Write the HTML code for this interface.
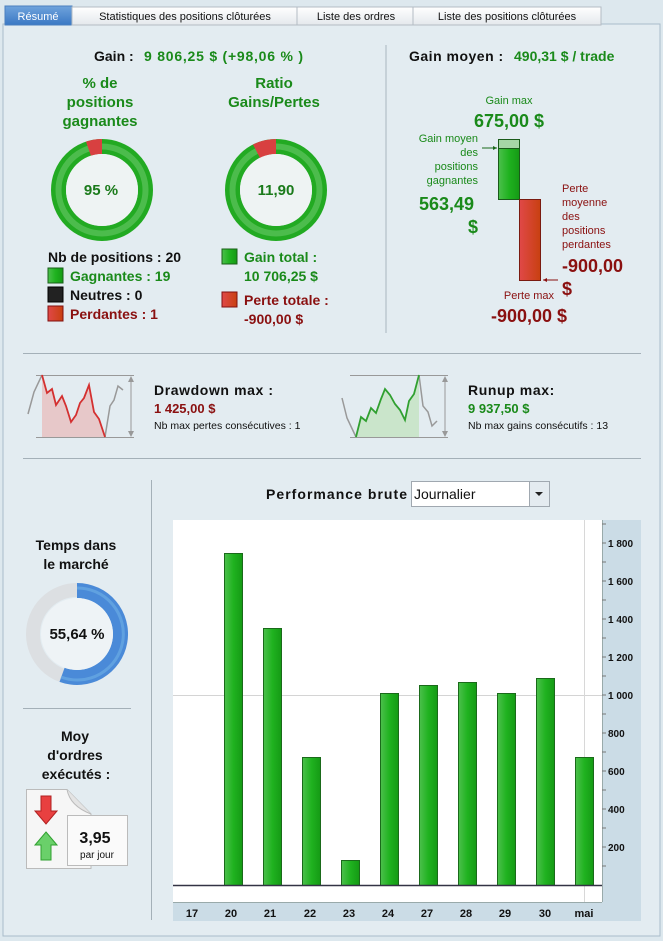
<!DOCTYPE html>
<html><head><meta charset="utf-8"><style>
html,body{margin:0;padding:0;background:#dfe9ef;}
svg{display:block;font-family:"Liberation Sans",sans-serif;}
</style></head><body>
<svg width="663" height="941" viewBox="0 0 663 941" xmlns="http://www.w3.org/2000/svg">
<defs>
<linearGradient id="gb" x1="0" x2="1"><stop offset="0" stop-color="#4cc04c"/><stop offset="0.5" stop-color="#1fb21f"/><stop offset="1" stop-color="#159a15"/></linearGradient>
<linearGradient id="rb" x1="0" x2="1"><stop offset="0" stop-color="#e04848"/><stop offset="1" stop-color="#c84010"/></linearGradient>
<linearGradient id="tab" x1="0" y1="0" x2="0" y2="1"><stop offset="0" stop-color="#ffffff"/><stop offset="1" stop-color="#e4e8ec"/></linearGradient>
<linearGradient id="tabb" x1="0" y1="0" x2="0" y2="1"><stop offset="0" stop-color="#6fa3dc"/><stop offset="1" stop-color="#3a78c4"/></linearGradient>
</defs>
<rect x="0" y="0" width="663" height="941" fill="#dde8ee"/>
<rect x="3" y="24" width="657" height="912" fill="#e3ecf1" stroke="#a9bccb"/>
<!-- tabs -->
<rect x="5" y="6" width="67" height="19" fill="url(#tabb)" stroke="#4a7fbf"/>
<text x="38" y="20" font-size="11" fill="#fff" text-anchor="middle">Résumé</text>
<rect x="72" y="7" width="225" height="18" fill="url(#tab)" stroke="#b4bcc4"/>
<text x="185" y="20" font-size="11" fill="#111" text-anchor="middle">Statistiques des positions clôturées</text>
<rect x="297" y="7" width="116" height="18" fill="url(#tab)" stroke="#b4bcc4"/>
<text x="356" y="20" font-size="11" fill="#111" text-anchor="middle">Liste des ordres</text>
<rect x="413" y="7" width="188" height="18" fill="url(#tab)" stroke="#b4bcc4"/>
<text x="507" y="20" font-size="11" fill="#111" text-anchor="middle">Liste des positions clôturées</text>

<!-- top left -->
<text x="94" y="61" font-size="14" font-weight="bold" fill="#111">Gain : </text>
<text x="144" y="61" font-size="14" font-weight="bold" fill="#1a8a1a" textLength="159" lengthAdjust="spacing">9 806,25 $ (+98,06 % )</text>
<g font-size="15" font-weight="bold" fill="#1a8a1a" text-anchor="middle">
<text x="100" y="88">% de</text><text x="100" y="107">positions</text><text x="100" y="126">gagnantes</text>
<text x="274" y="88">Ratio</text><text x="274" y="107">Gains/Pertes</text>
</g>
<g>
<circle cx="102" cy="190" r="43.5" fill="none" stroke="#22aa22" stroke-width="15"/>
<circle cx="102" cy="190" r="43.5" fill="none" stroke="#4cbc4c" stroke-width="6"/>
<path d="M102 139 A51 51 0 0 0 86 141.6 L90.9 155.8 A36 36 0 0 1 102 154 Z" fill="#d84040"/>
<circle cx="102" cy="190" r="36" fill="#eef3f3"/>
<text x="101" y="195" font-size="15" font-weight="bold" fill="#1a7a1a" text-anchor="middle">95 %</text>
<circle cx="276" cy="190" r="43.5" fill="none" stroke="#22aa22" stroke-width="15"/>
<circle cx="276" cy="190" r="43.5" fill="none" stroke="#4cbc4c" stroke-width="6"/>
<path d="M276 139 A51 51 0 0 0 253 144.5 L260 158 A36 36 0 0 1 276 154 Z" fill="#d84040"/>
<circle cx="276" cy="190" r="36" fill="#eef3f3"/>
<text x="276" y="195" font-size="15" font-weight="bold" fill="#1a7a1a" text-anchor="middle">11,90</text>
</g>
<text x="48" y="262" font-size="14" font-weight="bold" fill="#111">Nb de positions : 20</text>
<rect x="48" y="268" width="15" height="15" fill="url(#gb)" stroke="#186018"/>
<text x="70" y="281" font-size="14" font-weight="bold" fill="#1a8a1a">Gagnantes : 19</text>
<rect x="48" y="287" width="15" height="15" fill="#222" stroke="#000"/>
<text x="70" y="300" font-size="14" font-weight="bold" fill="#111">Neutres : 0</text>
<rect x="48" y="306" width="15" height="15" fill="url(#rb)" stroke="#801010"/>
<text x="70" y="319" font-size="14" font-weight="bold" fill="#8a1010">Perdantes : 1</text>
<rect x="222" y="249" width="15" height="15" fill="url(#gb)" stroke="#186018"/>
<text x="244" y="262" font-size="14" font-weight="bold" fill="#1a8a1a">Gain total :</text>
<text x="244" y="281" font-size="14" font-weight="bold" fill="#1a8a1a">10 706,25 $</text>
<rect x="222" y="292" width="15" height="15" fill="url(#rb)" stroke="#801010"/>
<text x="244" y="305" font-size="14" font-weight="bold" fill="#8a1010">Perte totale :</text>
<text x="244" y="324" font-size="14" font-weight="bold" fill="#8a1010">-900,00 $</text>
<line x1="386" y1="45" x2="386" y2="333" stroke="#a9b6bf"/>

<!-- top right -->
<text x="409" y="61" font-size="14" font-weight="bold" fill="#111" letter-spacing="0.5">Gain moyen : </text>
<text x="514" y="61" font-size="14" font-weight="bold" fill="#1a8a1a">490,31 $ / trade</text>
<text x="509" y="104" font-size="11" fill="#1a8a1a" text-anchor="middle">Gain max</text>
<text x="509" y="127" font-size="18" font-weight="bold" fill="#1a8a1a" text-anchor="middle">675,00 $</text>
<g font-size="11" fill="#1a8a1a" text-anchor="end">
<text x="478" y="142">Gain moyen</text><text x="478" y="156">des</text><text x="478" y="170">positions</text><text x="478" y="184">gagnantes</text>
</g>
<text x="474" y="210" font-size="18" font-weight="bold" fill="#1a8a1a" text-anchor="end">563,49</text>
<text x="478" y="233" font-size="18" font-weight="bold" fill="#1a8a1a" text-anchor="end">$</text>
<line x1="482" y1="148" x2="497" y2="148" stroke="#1a6a1a"/><path d="M497 148 l-4 -2 v4z" fill="#1a6a1a"/>
<rect x="498.5" y="139.5" width="21" height="60" fill="url(#gb)" stroke="#1a5a1a"/>
<rect x="498.5" y="139.5" width="21" height="9" fill="#a6d6a6" stroke="#1a5a1a"/>
<rect x="519.5" y="199.5" width="21" height="81" fill="url(#rb)" stroke="#7a1a10"/>
<g font-size="11" fill="#8a1010">
<text x="562" y="192">Perte</text><text x="562" y="206">moyenne</text><text x="562" y="220">des</text><text x="562" y="234">positions</text><text x="562" y="248">perdantes</text>
</g>
<text x="562" y="272" font-size="18" font-weight="bold" fill="#8a1010">-900,00</text>
<text x="562" y="295" font-size="18" font-weight="bold" fill="#8a1010">$</text>
<line x1="543" y1="280" x2="558" y2="280" stroke="#8a1010"/><path d="M543 280 l4 -2 v4z" fill="#8a1010"/>
<text x="529" y="299" font-size="11" fill="#8a1010" text-anchor="middle">Perte max</text>
<text x="529" y="322" font-size="18" font-weight="bold" fill="#8a1010" text-anchor="middle">-900,00 $</text>

<!-- middle -->
<line x1="23" y1="353.5" x2="641" y2="353.5" stroke="#a4b0b8"/>
<line x1="23" y1="458.5" x2="641" y2="458.5" stroke="#a4b0b8"/>
<g>
<line x1="36" y1="375.5" x2="134" y2="375.5" stroke="#999"/>
<line x1="36" y1="437.5" x2="134" y2="437.5" stroke="#999"/>
<line x1="131" y1="378" x2="131" y2="435" stroke="#999"/>
<path d="M131 376 l-3 6 h6z M131 437 l-3 -6 h6z" fill="#999"/>
<polyline points="28,414 34,392 42,375" fill="none" stroke="#999" stroke-width="1.5"/>
<polyline points="105,437 110,406 114,400 118,386 123,390" fill="none" stroke="#999" stroke-width="1.5"/>
<polygon points="42,375 47,393 52,389 56,405 62,396 66,406 71,422 76,415 80,403 84,398 89,385 94,412 99,419 105,437 42,437" fill="#e7c4c4" opacity="0.9"/>
<polyline points="42,375 47,393 52,389 56,405 62,396 66,406 71,422 76,415 80,403 84,398 89,385 94,412 99,419 105,437" fill="none" stroke="#d43030" stroke-width="1.8"/>
<text x="154" y="395" font-size="14" font-weight="bold" fill="#111" letter-spacing="0.6">Drawdown max :</text>
<text x="154" y="413" font-size="13" font-weight="bold" fill="#8a1010">1 425,00 $</text>
<text x="154" y="429" font-size="10.5" fill="#111">Nb max pertes consécutives : 1</text>

<line x1="350" y1="375.5" x2="448" y2="375.5" stroke="#999"/>
<line x1="350" y1="437.5" x2="448" y2="437.5" stroke="#999"/>
<line x1="445" y1="378" x2="445" y2="435" stroke="#999"/>
<path d="M445 376 l-3 6 h6z M445 437 l-3 -6 h6z" fill="#999"/>
<polyline points="342,398 347,418 356,437" fill="none" stroke="#999" stroke-width="1.5"/>
<polyline points="419,375 423,406 428,412 432,426 437,421" fill="none" stroke="#999" stroke-width="1.5"/>
<polygon points="356,437 361,417 366,421 371,408 376,413 381,399 385,389 390,395 395,404 400,410 405,420 409,401 414,394 419,375 419,437" fill="#c6e4c6" opacity="0.9"/>
<polyline points="356,437 361,417 366,421 371,408 376,413 381,399 385,389 390,395 395,404 400,410 405,420 409,401 414,394 419,375" fill="none" stroke="#30a030" stroke-width="1.8"/>
<text x="468" y="395" font-size="14" font-weight="bold" fill="#111" letter-spacing="0.6">Runup max:</text>
<text x="468" y="413" font-size="13" font-weight="bold" fill="#1a8a1a">9 937,50 $</text>
<text x="468" y="429" font-size="10.5" fill="#111">Nb max gains consécutifs : 13</text>
</g>

<!-- bottom left -->
<line x1="151.5" y1="480" x2="151.5" y2="920" stroke="#a4b0b8"/>
<text x="76" y="550" font-size="14" font-weight="bold" fill="#111" text-anchor="middle">Temps dans</text>
<text x="76" y="569" font-size="14" font-weight="bold" fill="#111" text-anchor="middle">le marché</text>
<circle cx="77" cy="634" r="44" fill="none" stroke="#dcdfe2" stroke-width="14"/>
<path d="M77 583 A51 51 0 1 1 59.5 681.9 L64.6 667.8 A36 36 0 1 0 77 598 Z" fill="#4a8ad8"/>
<path d="M77 588 A46 46 0 1 1 61 677" fill="none" stroke="#6fb0e6" stroke-width="3" opacity="0.6"/>
<circle cx="77" cy="634" r="36" fill="#eef3f6"/>
<text x="77" y="639" font-size="15" font-weight="bold" fill="#111" text-anchor="middle">55,64 %</text>
<line x1="23" y1="708.5" x2="131" y2="708.5" stroke="#a4b0b8"/>
<text x="75" y="741" font-size="14" font-weight="bold" fill="#111" text-anchor="middle">Moy</text>
<text x="75" y="760" font-size="14" font-weight="bold" fill="#111" text-anchor="middle">d'ordres</text>
<text x="76" y="779" font-size="14" font-weight="bold" fill="#111" text-anchor="middle">exécutés :</text>
<path d="M26.5 789.5 H67 L91 814 V868.5 H26.5 Z" fill="#f6f6f6" stroke="#bbb"/>
<path d="M67 789.5 Q70 806 91 814" fill="#e4e4e4" stroke="#bbb"/>
<path d="M41 796 h10 v15 h6 l-11 13 l-11 -13 h6 z" fill="#e84040" stroke="#b02020"/>
<path d="M46 832 l11 13 h-6 v15 h-10 v-15 h-6 z" fill="#6ad06a" stroke="#30a030"/>
<rect x="67.5" y="815.5" width="60" height="50" fill="#fafafa" stroke="#bbb"/>
<text x="95" y="843" font-size="16" font-weight="bold" fill="#111" text-anchor="middle">3,95</text>
<text x="97" y="858" font-size="10" fill="#111" text-anchor="middle">par jour</text>

<!-- chart header -->
<text x="266" y="499" font-size="14" font-weight="bold" fill="#111" textLength="141" lengthAdjust="spacing">Performance brute</text>
<rect x="411.5" y="481.5" width="138" height="25" fill="#fff" stroke="#a0a8b0"/>
<rect x="529.5" y="481.5" width="20" height="25" fill="#e4ebf0" stroke="#a0a8b0"/>
<path d="M535 492 h8 l-4 4z" fill="#222"/>
<text x="414" y="499" font-size="14" fill="#111">Journalier</text>

<!-- chart -->
<rect x="173" y="520" width="429" height="382" fill="#fff"/>
<rect x="602" y="520" width="39" height="401" fill="#cbdce6"/>
<rect x="173" y="902" width="429" height="19" fill="#cbdce6"/>
<line x1="173" y1="902.5" x2="602" y2="902.5" stroke="#9aa"/>
<line x1="602.5" y1="520" x2="602.5" y2="902" stroke="#9aa"/>
<line x1="173" y1="695.5" x2="602" y2="695.5" stroke="#d4d4d4"/>
<line x1="584.5" y1="520" x2="584.5" y2="902" stroke="#d8d8d8"/>
<g fill="url(#gb)" stroke="#1a6a1a">
<rect x="224.5" y="553.5" width="18" height="332"/>
<rect x="263.5" y="628.5" width="18" height="257"/>
<rect x="302.5" y="757.5" width="18" height="128"/>
<rect x="341.5" y="860.5" width="18" height="25"/>
<rect x="380.5" y="693.5" width="18" height="192"/>
<rect x="419.5" y="685.5" width="18" height="200"/>
<rect x="458.5" y="682.5" width="18" height="203"/>
<rect x="497.5" y="693.5" width="18" height="192"/>
<rect x="536.5" y="678.5" width="18" height="207"/>
<rect x="575.5" y="757.5" width="18" height="128"/>
</g>
<line x1="173" y1="885.5" x2="602" y2="885.5" stroke="#334" stroke-width="1.5"/>
<g stroke="#777">
<line x1="602" y1="524" x2="606" y2="524"/><line x1="602" y1="543" x2="606" y2="543"/><line x1="602" y1="562" x2="606" y2="562"/><line x1="602" y1="581" x2="606" y2="581"/><line x1="602" y1="600" x2="606" y2="600"/><line x1="602" y1="619" x2="606" y2="619"/><line x1="602" y1="638" x2="606" y2="638"/><line x1="602" y1="657" x2="606" y2="657"/><line x1="602" y1="676" x2="606" y2="676"/><line x1="602" y1="695" x2="606" y2="695"/><line x1="602" y1="714" x2="606" y2="714"/><line x1="602" y1="733" x2="606" y2="733"/><line x1="602" y1="752" x2="606" y2="752"/><line x1="602" y1="771" x2="606" y2="771"/><line x1="602" y1="790" x2="606" y2="790"/><line x1="602" y1="809" x2="606" y2="809"/><line x1="602" y1="828" x2="606" y2="828"/><line x1="602" y1="847" x2="606" y2="847"/><line x1="602" y1="866" x2="606" y2="866"/>
</g>
<g font-size="10" font-weight="bold" fill="#111">
<text x="608" y="547">1 800</text><text x="608" y="585">1 600</text><text x="608" y="623">1 400</text><text x="608" y="661">1 200</text><text x="608" y="699">1 000</text><text x="608" y="737">800</text><text x="608" y="775">600</text><text x="608" y="813">400</text><text x="608" y="851">200</text>
</g>
<g font-size="11" font-weight="bold" fill="#111" text-anchor="middle">
<text x="192" y="917">17</text><text x="231" y="917">20</text><text x="270" y="917">21</text><text x="310" y="917">22</text><text x="349" y="917">23</text><text x="388" y="917">24</text><text x="427" y="917">27</text><text x="466" y="917">28</text><text x="505" y="917">29</text><text x="545" y="917">30</text><text x="584" y="917">mai</text>
</g>
</svg>
</body></html>
